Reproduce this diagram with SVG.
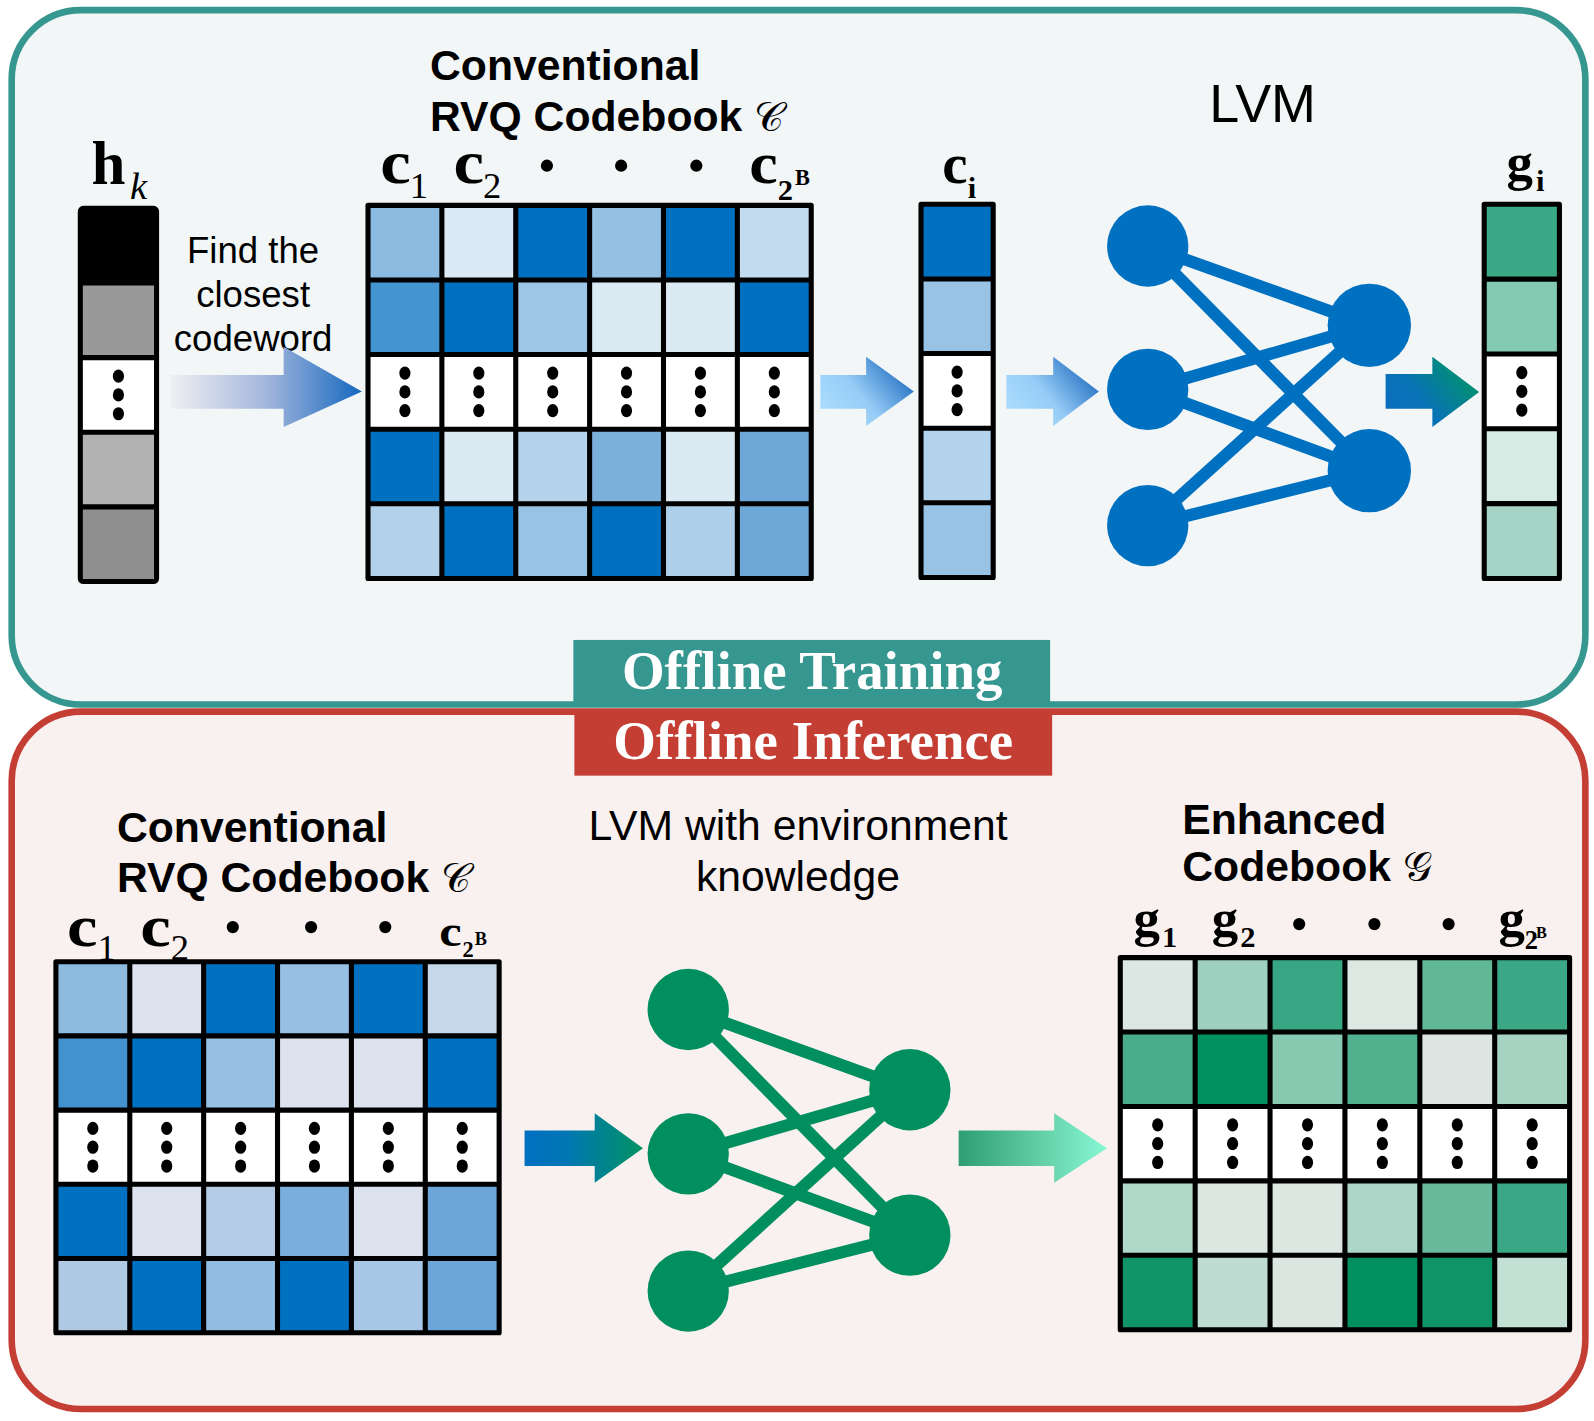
<svg xmlns="http://www.w3.org/2000/svg" xmlns:xlink="http://www.w3.org/1999/xlink" width="1594" height="1421" viewBox="0 0 1594 1421">
<style>
.sans{font-family:"Liberation Sans",Arial,sans-serif;fill:#000}
.b{font-weight:bold}
.serif{font-family:"Liberation Serif","Times New Roman",serif;fill:#000}
.it{font-style:italic}
.math{font-family:"DejaVu Serif","DejaVu Sans","Liberation Serif",serif;font-weight:normal;font-style:normal}
.gl{fill:none;stroke:#000;stroke-width:5;stroke-linejoin:round}
.dot{fill:#000}
.netb line{stroke:#0070C0;stroke-width:12}
.netb circle{fill:#0070C0}
.netg line{stroke:#028F60;stroke-width:12}
.netg circle{fill:#028F60}
.ttl{font-family:"Liberation Serif","Times New Roman",serif;font-weight:bold;font-size:54px;fill:#fff;text-anchor:middle}
</style>
<defs>
<g id="dots"><ellipse class="dot" cx="0" cy="-18.5" rx="5.5" ry="6.5"/><ellipse class="dot" cx="0" cy="0" rx="5.5" ry="6.5"/><ellipse class="dot" cx="0" cy="18.5" rx="5.5" ry="6.5"/></g>
<linearGradient id="gA1" x1="0" y1="0.5" x2="1" y2="0.5"><stop offset="0" stop-color="#EFEFF3"/><stop offset="0.5" stop-color="#A3B6DC"/><stop offset="1" stop-color="#1568BF"/></linearGradient>
<linearGradient id="gA2" x1="0" y1="0.85" x2="1" y2="0.25"><stop offset="0" stop-color="#AEDEFF"/><stop offset="0.45" stop-color="#96CCF6"/><stop offset="1" stop-color="#1A68BE"/></linearGradient>
<linearGradient id="gA4" x1="0" y1="0.85" x2="1" y2="0.25"><stop offset="0" stop-color="#0A6DC2"/><stop offset="0.4" stop-color="#0873B4"/><stop offset="1" stop-color="#009565"/></linearGradient>
<linearGradient id="gA5" x1="0" y1="0.5" x2="1" y2="0.5"><stop offset="0" stop-color="#0070C2"/><stop offset="0.35" stop-color="#0076B4"/><stop offset="1" stop-color="#009362"/></linearGradient>
<linearGradient id="gA6" x1="0" y1="0.5" x2="1" y2="0.5"><stop offset="0" stop-color="#2E9D75"/><stop offset="0.5" stop-color="#5ECAA2"/><stop offset="1" stop-color="#88F8D5"/></linearGradient>
</defs>
<g transform="scale(1.01658)">
<!-- panels -->
<g id="panel-training"><rect x="11.5" y="10" width="1548" height="683" rx="68" fill="#F2F6F7" stroke="#35978F" stroke-width="6.5"/></g>
<g id="panel-inference"><rect x="11.5" y="700" width="1548" height="686" rx="68" fill="#F9F1F0" stroke="#C43E33" stroke-width="6.5"/></g>
<g id="label-training"><rect x="564" y="629.5" width="469" height="64" fill="#35978F"/><text class="ttl" x="799" y="678">Offline Training</text></g>
<g id="label-inference"><rect x="565" y="703" width="470" height="60" fill="#C43E33"/><text class="ttl" x="800" y="747">Offline Inference</text></g>

<!-- h_k vector -->
<g id="hk">
<text class="serif b" x="90" y="181" font-size="60">h</text><text class="serif it" x="128" y="196" font-size="38">k</text>
<rect x="79" y="205" width="75" height="73.4" fill="#000"/>
<rect x="79" y="278.4" width="75" height="73.4" fill="#999999"/>
<rect x="79" y="351.8" width="75" height="73.4" fill="#fff"/>
<rect x="79" y="425.2" width="75" height="73.4" fill="#B2B2B2"/>
<rect x="79" y="498.6" width="75" height="73.4" fill="#8F8F8F"/>
<path class="gl" d="M79,278.4H154M79,351.8H154M79,425.2H154M79,498.6H154"/>
<rect class="gl" x="79" y="205" width="75" height="367" rx="3"/>
<use xlink:href="#dots" x="116.5" y="388.5"/>
</g>

<g id="find-text"><text class="sans" font-size="36" text-anchor="middle"><tspan x="249" y="259">Find the</tspan><tspan x="249" y="302">closest</tspan><tspan x="249" y="345">codeword</tspan></text></g>

<!-- top codebook -->
<g id="codebook-top">
<text class="sans b" font-size="42"><tspan x="423" y="79">Conventional</tspan><tspan x="423" y="129">RVQ Codebook </tspan><tspan class="math" font-size="40">𝒞</tspan></text>
<text class="serif b" x="374" y="180" font-size="60" textLength="30" lengthAdjust="spacingAndGlyphs">c</text><text class="serif" x="403" y="195" font-size="36">1</text>
<text class="serif b" x="446" y="180" font-size="60" textLength="30" lengthAdjust="spacingAndGlyphs">c</text><text class="serif" x="475" y="195" font-size="36">2</text>
<circle class="dot" cx="538" cy="163" r="6"/><circle class="dot" cx="611" cy="163" r="6"/><circle class="dot" cx="685" cy="163" r="6"/>
<text class="serif b" x="737" y="180" font-size="58" textLength="28" lengthAdjust="spacingAndGlyphs">c</text><text class="serif b" x="765" y="197" font-size="30">2</text><text class="serif b" x="782" y="182" font-size="22">B</text>
<g>
<rect x="362" y="202" width="72.67" height="73.4" fill="#8BBBE0"/><rect x="434.67" y="202" width="72.67" height="73.4" fill="#DBEAF4"/><rect x="507.33" y="202" width="72.67" height="73.4" fill="#0070C0"/><rect x="580" y="202" width="72.67" height="73.4" fill="#93C0E3"/><rect x="652.67" y="202" width="72.67" height="73.4" fill="#0070C0"/><rect x="725.33" y="202" width="72.67" height="73.4" fill="#C3DBEE"/>
<rect x="362" y="275.4" width="72.67" height="73.4" fill="#4494D0"/><rect x="434.67" y="275.4" width="72.67" height="73.4" fill="#0070C0"/><rect x="507.33" y="275.4" width="72.67" height="73.4" fill="#9CC5E6"/><rect x="580" y="275.4" width="72.67" height="73.4" fill="#DCEAF3"/><rect x="652.67" y="275.4" width="72.67" height="73.4" fill="#DCEAF3"/><rect x="725.33" y="275.4" width="72.67" height="73.4" fill="#0070C0"/>
<rect x="362" y="348.8" width="436" height="73.4" fill="#fff"/>
<rect x="362" y="422.2" width="72.67" height="73.4" fill="#0070C0"/><rect x="434.67" y="422.2" width="72.67" height="73.4" fill="#DCEAF3"/><rect x="507.33" y="422.2" width="72.67" height="73.4" fill="#B5D3EB"/><rect x="580" y="422.2" width="72.67" height="73.4" fill="#7CB1DC"/><rect x="652.67" y="422.2" width="72.67" height="73.4" fill="#DCEAF3"/><rect x="725.33" y="422.2" width="72.67" height="73.4" fill="#6EA8D9"/>
<rect x="362" y="495.6" width="72.67" height="73.4" fill="#B2D2EB"/><rect x="434.67" y="495.6" width="72.67" height="73.4" fill="#0070C0"/><rect x="507.33" y="495.6" width="72.67" height="73.4" fill="#97C3E5"/><rect x="580" y="495.6" width="72.67" height="73.4" fill="#0070C0"/><rect x="652.67" y="495.6" width="72.67" height="73.4" fill="#ADCFEA"/><rect x="725.33" y="495.6" width="72.67" height="73.4" fill="#6EA8D9"/>
</g>
<path class="gl" d="M434.67,202V569M507.33,202V569M580,202V569M652.67,202V569M725.33,202V569M362,275.4H798M362,348.8H798M362,422.2H798M362,495.6H798"/>
<rect class="gl" x="362" y="202" width="436" height="367"/>
<use xlink:href="#dots" x="398.3" y="385.5"/><use xlink:href="#dots" x="471" y="385.5"/><use xlink:href="#dots" x="543.7" y="385.5"/><use xlink:href="#dots" x="616.3" y="385.5"/><use xlink:href="#dots" x="689" y="385.5"/><use xlink:href="#dots" x="761.7" y="385.5"/>
</g>

<!-- c_i vector -->
<g id="ci">
<text class="serif b" x="927" y="180" font-size="56">c</text><text class="serif b" x="952" y="195" font-size="30">i</text>
<rect x="906" y="201" width="71" height="73.4" fill="#0070C0"/>
<rect x="906" y="274.4" width="71" height="73.4" fill="#98C3E5"/>
<rect x="906" y="347.8" width="71" height="73.4" fill="#fff"/>
<rect x="906" y="421.2" width="71" height="73.4" fill="#B2D3EB"/>
<rect x="906" y="494.6" width="71" height="73.4" fill="#99C3E5"/>
<path class="gl" d="M906,274.4H977M906,347.8H977M906,421.2H977M906,494.6H977"/>
<rect class="gl" x="906" y="201" width="71" height="367"/>
<use xlink:href="#dots" x="941.5" y="384.5"/>
</g>

<g id="lvm-top">
<text class="sans" x="1242" y="120" font-size="53" text-anchor="middle">LVM</text>
<g class="netb">
<line x1="1129" y1="242" x2="1347" y2="320"/><line x1="1129" y1="242" x2="1347" y2="463"/>
<line x1="1129" y1="383" x2="1347" y2="320"/><line x1="1129" y1="383" x2="1347" y2="463"/>
<line x1="1129" y1="517" x2="1347" y2="320"/><line x1="1129" y1="517" x2="1347" y2="463"/>
<circle cx="1129" cy="242" r="40"/><circle cx="1129" cy="383" r="40"/><circle cx="1129" cy="517" r="40"/>
<circle cx="1347" cy="320" r="41"/><circle cx="1347" cy="463" r="41"/>
</g>
</g>

<!-- g_i vector -->
<g id="gi">
<text class="serif b" x="1482" y="177" font-size="52">g</text><text class="serif b" x="1511" y="188" font-size="30">i</text>
<rect x="1460" y="201" width="74" height="73.6" fill="#3AA986"/>
<rect x="1460" y="274.6" width="74" height="73.6" fill="#84C9B2"/>
<rect x="1460" y="348.2" width="74" height="73.6" fill="#fff"/>
<rect x="1460" y="421.8" width="74" height="73.6" fill="#D7EBE5"/>
<rect x="1460" y="495.4" width="74" height="73.6" fill="#A6D4C6"/>
<path class="gl" d="M1460,274.6H1534M1460,348.2H1534M1460,421.8H1534M1460,495.4H1534"/>
<rect class="gl" x="1460" y="201" width="74" height="368"/>
<use xlink:href="#dots" x="1497" y="385"/>
</g>

<!-- bottom codebook -->
<g id="codebook-bottom">
<text class="sans b" font-size="42"><tspan x="115" y="828">Conventional</tspan><tspan x="115" y="877">RVQ Codebook </tspan><tspan class="math" font-size="40">𝒞</tspan></text>
<text class="serif b" x="66" y="931" font-size="58" textLength="30" lengthAdjust="spacingAndGlyphs">c</text><text class="serif" x="96" y="944" font-size="36">1</text>
<text class="serif b" x="138" y="931" font-size="58" textLength="30" lengthAdjust="spacingAndGlyphs">c</text><text class="serif" x="168" y="944" font-size="36">2</text>
<circle class="dot" cx="229" cy="912" r="6"/><circle class="dot" cx="306" cy="912" r="6"/><circle class="dot" cx="379" cy="912" r="6"/>
<text class="serif b" x="432" y="931" font-size="44" textLength="22" lengthAdjust="spacingAndGlyphs">c</text><text class="serif b" x="455" y="941" font-size="22">2</text><text class="serif b" x="467" y="930" font-size="18">B</text>
<g>
<rect x="55" y="946" width="72.67" height="73" fill="#8DBBE0"/><rect x="127.67" y="946" width="72.67" height="73" fill="#DCE2EE"/><rect x="200.33" y="946" width="72.67" height="73" fill="#0070C0"/><rect x="273" y="946" width="72.67" height="73" fill="#96BFE3"/><rect x="345.67" y="946" width="72.67" height="73" fill="#0070C0"/><rect x="418.33" y="946" width="72.67" height="73" fill="#C5D7EA"/>
<rect x="55" y="1019" width="72.67" height="73" fill="#4392D0"/><rect x="127.67" y="1019" width="72.67" height="73" fill="#0070C0"/><rect x="200.33" y="1019" width="72.67" height="73" fill="#98C0E3"/><rect x="273" y="1019" width="72.67" height="73" fill="#DCE2EE"/><rect x="345.67" y="1019" width="72.67" height="73" fill="#DCE2EE"/><rect x="418.33" y="1019" width="72.67" height="73" fill="#0070C0"/>
<rect x="55" y="1092" width="436" height="73" fill="#fff"/>
<rect x="55" y="1165" width="72.67" height="73" fill="#0070C0"/><rect x="127.67" y="1165" width="72.67" height="73" fill="#DCE2EE"/><rect x="200.33" y="1165" width="72.67" height="73" fill="#B4CBE6"/><rect x="273" y="1165" width="72.67" height="73" fill="#7AAFDB"/><rect x="345.67" y="1165" width="72.67" height="73" fill="#DCE2EE"/><rect x="418.33" y="1165" width="72.67" height="73" fill="#6CA6D8"/>
<rect x="55" y="1238" width="72.67" height="73" fill="#B1CAE4"/><rect x="127.67" y="1238" width="72.67" height="73" fill="#0070C0"/><rect x="200.33" y="1238" width="72.67" height="73" fill="#93BCE2"/><rect x="273" y="1238" width="72.67" height="73" fill="#0070C0"/><rect x="345.67" y="1238" width="72.67" height="73" fill="#A6C8E6"/><rect x="418.33" y="1238" width="72.67" height="73" fill="#6CA6D8"/>
</g>
<path class="gl" d="M127.67,946V1311M200.33,946V1311M273,946V1311M345.67,946V1311M418.33,946V1311M55,1019H491M55,1092H491M55,1165H491M55,1238H491"/>
<rect class="gl" x="55" y="946" width="436" height="365"/>
<use xlink:href="#dots" x="91.3" y="1128.5"/><use xlink:href="#dots" x="164" y="1128.5"/><use xlink:href="#dots" x="236.7" y="1128.5"/><use xlink:href="#dots" x="309.3" y="1128.5"/><use xlink:href="#dots" x="382" y="1128.5"/><use xlink:href="#dots" x="454.7" y="1128.5"/>
</g>

<g id="lvm-bottom">
<text class="sans" font-size="42" text-anchor="middle"><tspan x="785" y="826">LVM with environment</tspan><tspan x="785" y="876">knowledge</tspan></text>
<g class="netg">
<line x1="677" y1="993" x2="895" y2="1072"/><line x1="677" y1="993" x2="895" y2="1215"/>
<line x1="677" y1="1135" x2="895" y2="1072"/><line x1="677" y1="1135" x2="895" y2="1215"/>
<line x1="677" y1="1270" x2="895" y2="1072"/><line x1="677" y1="1270" x2="895" y2="1215"/>
<circle cx="677" cy="993" r="40"/><circle cx="677" cy="1135" r="40"/><circle cx="677" cy="1270" r="40"/>
<circle cx="895" cy="1072" r="40"/><circle cx="895" cy="1215" r="40"/>
</g>
</g>

<!-- enhanced codebook -->
<g id="codebook-enhanced">
<text class="sans b" font-size="42"><tspan x="1163" y="820">Enhanced</tspan><tspan x="1163" y="867">Codebook  </tspan><tspan class="math" font-size="40">𝒢</tspan></text>
<text class="serif b" x="1115" y="921" font-size="52">g</text><text class="serif b" x="1143" y="932" font-size="30">1</text>
<text class="serif b" x="1192" y="921" font-size="52">g</text><text class="serif b" x="1220" y="932" font-size="30">2</text>
<circle class="dot" cx="1278" cy="909" r="6"/><circle class="dot" cx="1352" cy="909" r="6"/><circle class="dot" cx="1425" cy="909" r="6"/>
<text class="serif b" x="1474" y="921" font-size="52">g</text><text class="serif b" x="1500" y="934" font-size="26">2</text><text class="serif b" x="1511" y="923" font-size="16">B</text>
<g>
<rect x="1102" y="942" width="73.67" height="73.2" fill="#DCE7E3"/><rect x="1175.67" y="942" width="73.67" height="73.2" fill="#9ED0BF"/><rect x="1249.33" y="942" width="73.67" height="73.2" fill="#37A783"/><rect x="1323" y="942" width="73.67" height="73.2" fill="#DDE8E3"/><rect x="1396.67" y="942" width="73.67" height="73.2" fill="#60B897"/><rect x="1470.33" y="942" width="73.67" height="73.2" fill="#3AA885"/>
<rect x="1102" y="1015.2" width="73.67" height="73.2" fill="#49AD8B"/><rect x="1175.67" y="1015.2" width="73.67" height="73.2" fill="#01905F"/><rect x="1249.33" y="1015.2" width="73.67" height="73.2" fill="#88C9B1"/><rect x="1323" y="1015.2" width="73.67" height="73.2" fill="#50B18E"/><rect x="1396.67" y="1015.2" width="73.67" height="73.2" fill="#DCE5E1"/><rect x="1470.33" y="1015.2" width="73.67" height="73.2" fill="#A6D2C2"/>
<rect x="1102" y="1088.4" width="442" height="73.2" fill="#fff"/>
<rect x="1102" y="1161.6" width="73.67" height="73.2" fill="#AFD9C9"/><rect x="1175.67" y="1161.6" width="73.67" height="73.2" fill="#DCE7E2"/><rect x="1249.33" y="1161.6" width="73.67" height="73.2" fill="#DCE7E2"/><rect x="1323" y="1161.6" width="73.67" height="73.2" fill="#ACD6C7"/><rect x="1396.67" y="1161.6" width="73.67" height="73.2" fill="#69BA9C"/><rect x="1470.33" y="1161.6" width="73.67" height="73.2" fill="#3BA885"/>
<rect x="1102" y="1234.8" width="73.67" height="73.2" fill="#109569"/><rect x="1175.67" y="1234.8" width="73.67" height="73.2" fill="#BFDCD2"/><rect x="1249.33" y="1234.8" width="73.67" height="73.2" fill="#DCE6E1"/><rect x="1323" y="1234.8" width="73.67" height="73.2" fill="#00905F"/><rect x="1396.67" y="1234.8" width="73.67" height="73.2" fill="#0F9468"/><rect x="1470.33" y="1234.8" width="73.67" height="73.2" fill="#C3E0D5"/>
</g>
<path class="gl" d="M1175.67,942V1308M1249.33,942V1308M1323,942V1308M1396.67,942V1308M1470.33,942V1308M1102,1015.2H1544M1102,1088.4H1544M1102,1161.6H1544M1102,1234.8H1544"/>
<rect class="gl" x="1102" y="942" width="442" height="366"/>
<use xlink:href="#dots" x="1138.8" y="1125"/><use xlink:href="#dots" x="1212.5" y="1125"/><use xlink:href="#dots" x="1286.2" y="1125"/><use xlink:href="#dots" x="1359.8" y="1125"/><use xlink:href="#dots" x="1433.5" y="1125"/><use xlink:href="#dots" x="1507.2" y="1125"/>
</g>

<!-- connectors -->
<g id="connectors">
<path d="M168,369H279V341L356,385L279,420V402H168Z" fill="url(#gA1)"/>
<path d="M807,369H852V351L899,385L852,419V402H807Z" fill="url(#gA2)"/>
<path d="M990,369H1036V351L1081,385L1036,419V402H990Z" fill="url(#gA2)"/>
<path d="M1363,368H1409V351L1455,385.5L1409,420V402H1363Z" fill="url(#gA4)"/>
<path d="M516,1112H585V1095L632.5,1129.5L585,1163.5V1147H516Z" fill="url(#gA5)"/>
<path d="M943,1112H1037V1095L1089,1129.5L1037,1163.5V1147H943Z" fill="url(#gA6)"/>
</g>
</g>
</svg>
